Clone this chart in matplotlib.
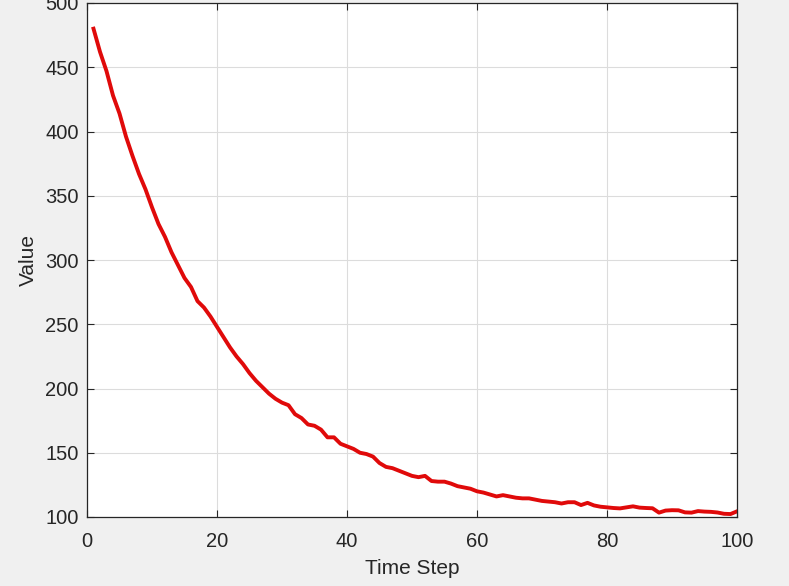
import matplotlib
matplotlib.use("Agg")
import matplotlib.pyplot as plt

time_step = list(range(1, 101))
values = [
    480, 462, 447, 428, 414, 396, 381, 367, 355, 341,
    328, 318, 306, 296, 286, 279, 268, 263, 256, 248,
    240, 232, 225, 219, 212, 206, 201, 196, 192, 189,
    187, 180, 177, 172, 171, 168, 162, 162, 157, 155,
    153, 150, 149, 147, 142, 139, 138, 136, 134, 132,
    131, 132, 128, 127.5, 127.5, 126, 124, 123, 122, 120,
    119, 117.5, 116, 117, 116, 115, 114.5, 114.5, 113.5, 112.5,
    112, 111.5, 110.5, 111.5, 111.5, 109.3, 111, 109, 108, 107.5,
    107, 106.7, 107.5, 108.3, 107.3, 107, 106.8, 103.4, 105, 105.3,
    105.2, 103.6, 103.4, 104.6, 104.2, 104, 103.5, 102.5, 102.3, 104.4,
]
x_ticks = [0, 20, 40, 60, 80, 100]
y_ticks = [100, 150, 200, 250, 300, 350, 400, 450, 500]

plt.rcParams['font.family'] = ['Liberation Sans', 'DejaVu Sans']

fig = plt.figure(figsize=(7.89, 5.86), dpi=100, facecolor='#f0f0f0')
ax = fig.add_axes([87/789, 1-517/586, 650/789, 514/586])
ax.set_facecolor('white')
ax.plot(time_step, values, color='#e00a0a', linewidth=2.8, solid_joinstyle='round')

ax.set_xlim(0, 100)
ax.set_ylim(100, 500)
ax.set_xticks(x_ticks)
ax.set_yticks(y_ticks)
ax.grid(True, color='#dcdcdc', linewidth=0.8)
ax.set_axisbelow(True)
for s in ax.spines.values():
    s.set_color('#262626')
    s.set_linewidth(0.9)
ax.tick_params(direction='in', length=5, width=0.8, colors='#262626',
               labelsize=14.5, top=True, right=True, labelcolor='#262626')
ax.tick_params(axis='x', pad=10.5)
ax.tick_params(axis='y', pad=6)
ax.set_xlabel('Time Step', fontsize=15, color='#262626', labelpad=6)
ax.set_ylabel('Value', fontsize=15, color='#262626', labelpad=5)

fig.savefig('out.png', dpi=100, facecolor=fig.get_facecolor())
